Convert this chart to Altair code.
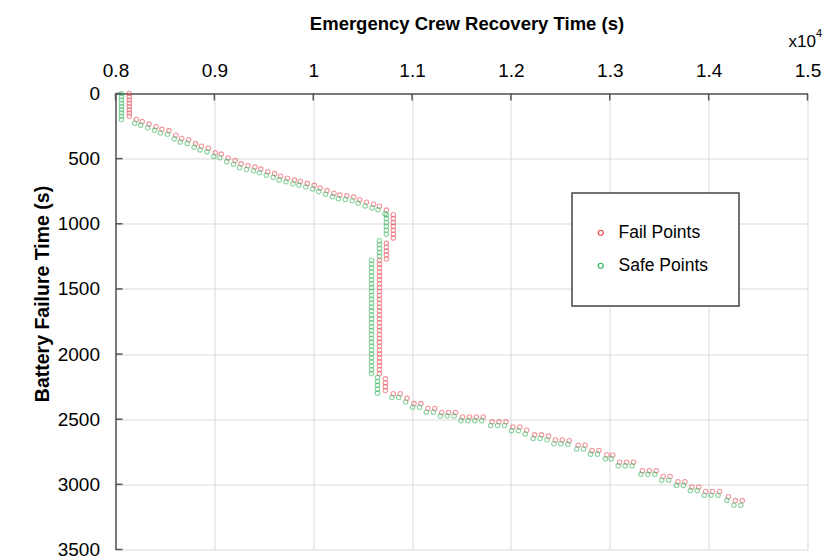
import altair as alt
import pandas as pd

FONT = "Liberation Sans, Arial, sans-serif"

# ---------------- data ----------------
# Fail points (red), by segment
fail_top_x = 8140
fail_top_y = [0, 25, 50, 75, 100, 125, 150, 175]

fail_diag1_x = [8210, 8270, 8340, 8410, 8470, 8540, 8610, 8670, 8740, 8810, 8870, 8940, 9010,
                9070, 9140, 9210, 9270, 9340, 9410, 9470, 9540, 9610, 9670, 9740, 9810, 9870,
                9940, 10010, 10070, 10140, 10210, 10270, 10340, 10410, 10470, 10540, 10610,
                10670, 10740]
fail_diag1_y = [200, 215, 235, 255, 275, 285, 320, 345, 355, 385, 405, 420, 455,
                465, 495, 515, 540, 555, 565, 580, 600, 615, 635, 650, 665, 675,
                690, 705, 725, 745, 765, 780, 785, 795, 815, 835, 850,
                865, 895]

fail_col1_x = 10810
fail_col1_y = [930, 960, 990, 1020, 1050, 1080, 1110]
fail_col2_x = 10740
fail_col2_y = [1150, 1180, 1210, 1240, 1270]
fail_col3_x = 10670
fail_col3_y = [1280, 1310, 1340, 1370, 1400, 1430, 1460, 1490, 1520, 1550, 1580, 1610,
               1640, 1670, 1700, 1730, 1760, 1790, 1820, 1850, 1880, 1910, 1940, 1970,
               2000, 2030, 2060, 2090, 2120, 2150]
fail_col4_x = 10730
fail_col4_y = [2190, 2220, 2250, 2280]

fail_diag2_x = [10810, 10880, 10950, 11020, 11090, 11160, 11230, 11300, 11370, 11440,
                11510, 11580, 11650, 11720, 11810, 11880, 11950, 12020, 12090, 12160,
                12240, 12310, 12380, 12450, 12520, 12590, 12680, 12750, 12820, 12890,
                12970, 13030, 13100, 13170, 13240, 13330, 13400, 13470, 13540, 13610,
                13690, 13760, 13830, 13900, 13970, 14040, 14110, 14200, 14270, 14340]
fail_diag2_y = [2305, 2305, 2340, 2380, 2380, 2418, 2418, 2448, 2448, 2448,
                2483, 2483, 2483, 2483, 2520, 2520, 2520, 2560, 2560, 2585,
                2620, 2620, 2630, 2660, 2660, 2665, 2700, 2700, 2740, 2740,
                2775, 2775, 2830, 2830, 2830, 2895, 2895, 2895, 2940, 2940,
                2980, 2980, 3020, 3020, 3055, 3055, 3055, 3095, 3125, 3125]

# Safe points (green), by segment
safe_top_x = 8060
safe_top_y = [0, 25, 50, 75, 100, 125, 150, 175, 200]

safe_diag1_x = [8195, 8255, 8325, 8395, 8455, 8525, 8595, 8655, 8725, 8795, 8855, 8925, 8995,
                9055, 9125, 9195, 9255, 9325, 9395, 9455, 9525, 9595, 9655, 9725, 9795, 9855,
                9925, 9995, 10055, 10125, 10195, 10255, 10325, 10395, 10455, 10525, 10595,
                10655, 10725]
safe_diag1_y = [228, 243, 263, 283, 303, 313, 348, 373, 383, 413, 433, 448, 483,
                493, 523, 543, 568, 583, 593, 608, 628, 643, 663, 678, 693, 703,
                718, 733, 753, 773, 793, 808, 813, 823, 843, 863, 878,
                893, 923]

safe_col1_x = 10740
safe_col1_y = [930, 960, 990, 1020, 1050, 1080]
safe_col2_x = 10670
safe_col2_y = [1130, 1160, 1190, 1220, 1250]
safe_col3_x = 10590
safe_col3_y = [1280, 1310, 1340, 1370, 1400, 1430, 1460, 1490, 1520, 1550, 1580, 1610,
               1640, 1670, 1700, 1730, 1760, 1790, 1820, 1850, 1880, 1910, 1940, 1970,
               2000, 2030, 2060, 2090, 2120, 2150]
safe_col4_x = 10650
safe_col4_y = [2180, 2210, 2240, 2270, 2300]

safe_diag2_x = [10795, 10865, 10935, 11005, 11075, 11145, 11215, 11285, 11355, 11425,
                11495, 11565, 11635, 11705, 11795, 11865, 11935, 12005, 12075, 12145,
                12225, 12295, 12365, 12435, 12505, 12575, 12665, 12735, 12805, 12875,
                12955, 13015, 13085, 13155, 13225, 13315, 13385, 13455, 13525, 13595,
                13675, 13745, 13815, 13885, 13955, 14025, 14095, 14185, 14255, 14325]
safe_diag2_y = [2333, 2333, 2368, 2408, 2408, 2446, 2446, 2476, 2476, 2476,
                2511, 2511, 2511, 2511, 2548, 2548, 2548, 2588, 2588, 2613,
                2648, 2648, 2658, 2688, 2688, 2693, 2728, 2728, 2768, 2768,
                2803, 2803, 2858, 2858, 2858, 2923, 2923, 2923, 2968, 2968,
                3008, 3008, 3048, 3048, 3083, 3083, 3083, 3123, 3160, 3160]

series_names = ["Fail Points", "Safe Points"]
series_colors = ["#e8424e", "#2db356"]

x_ticks = [8000, 9000, 10000, 11000, 12000, 13000, 14000, 15000]
x_tick_labels = ["0.8", "0.9", "1", "1.1", "1.2", "1.3", "1.4", "1.5"]
y_ticks = [0, 500, 1000, 1500, 2000, 2500, 3000, 3500]

# ---------------- assemble tables ----------------
fail_x = ([fail_top_x] * len(fail_top_y) + fail_diag1_x + [fail_col1_x] * len(fail_col1_y)
          + [fail_col2_x] * len(fail_col2_y) + [fail_col3_x] * len(fail_col3_y)
          + [fail_col4_x] * len(fail_col4_y) + fail_diag2_x)
fail_y = fail_top_y + fail_diag1_y + fail_col1_y + fail_col2_y + fail_col3_y + fail_col4_y + fail_diag2_y
safe_x = ([safe_top_x] * len(safe_top_y) + safe_diag1_x + [safe_col1_x] * len(safe_col1_y)
          + [safe_col2_x] * len(safe_col2_y) + [safe_col3_x] * len(safe_col3_y)
          + [safe_col4_x] * len(safe_col4_y) + safe_diag2_x)
safe_y = safe_top_y + safe_diag1_y + safe_col1_y + safe_col2_y + safe_col3_y + safe_col4_y + safe_diag2_y

points = pd.DataFrame({
    "x": fail_x + safe_x,
    "y": fail_y + safe_y,
    "kind": [series_names[0]] * len(fail_x) + [series_names[1]] * len(safe_x),
})
xt = pd.DataFrame({"v": x_ticks})
yt = pd.DataFrame({"v": y_ticks})

W, H = 692, 456

label_expr = "[" + ",".join("'%s'" % s for s in x_tick_labels) + "][round((datum.value-8000)/1000)]"

x_scale = alt.Scale(domain=[8000, 15000], nice=False, zero=False)
y_scale = alt.Scale(domain=[0, 3500], nice=False, zero=False, reverse=True)

x_axis = alt.Axis(
    orient="top", values=x_ticks, labelExpr=label_expr,
    title="Emergency Crew Recovery Time (s)",
    tickSize=0, labelPadding=13, labelFlush=False, labelOverlap=False,
    grid=True, gridColor="#d9d9d9", gridWidth=1,
    domainColor="#555555", domainWidth=1.5,
    labelFont=FONT, labelFontSize=19, labelColor="black",
    titleFont=FONT, titleFontSize=18.5, titleFontWeight="bold", titleColor="black",
    titleBaseline="alphabetic", titleX=351, titleY=-64,
)
y_axis = alt.Axis(
    orient="left", values=y_ticks, format="d",
    title="Battery Failure Time (s)",
    tickSize=0, labelPadding=16, labelFlush=False, labelOverlap=False,
    grid=True, gridColor="#d9d9d9", gridWidth=1,
    domainColor="#555555", domainWidth=1.5,
    labelFont=FONT, labelFontSize=19, labelColor="black",
    titleFont=FONT, titleFontSize=19.5, titleFontWeight="bold", titleColor="black",
    titleBaseline="alphabetic", titleX=-67.5, titleY=200, titleAngle=270,
)

pts = alt.Chart(points).mark_point(
    shape="circle", filled=False, size=20, strokeWidth=1.1, opacity=0.55
).encode(
    x=alt.X("x:Q", scale=x_scale, axis=x_axis),
    y=alt.Y("y:Q", scale=y_scale, axis=y_axis),
    color=alt.Color(
        "kind:N",
        scale=alt.Scale(domain=series_names, range=series_colors),
        legend=alt.Legend(
            title=None, orient="none", legendX=456.5, legendY=99.5,
            padding=31, strokeColor="#444444", fillColor="white",
            labelFont=FONT, labelFontSize=17.5, labelColor="black",
            symbolType="circle", symbolSize=25, symbolStrokeWidth=1.2,
            symbolOpacity=1, rowPadding=14, labelOffset=9, symbolOffset=-11,
        ),
    ),
)

xtick_rules = alt.Chart(xt).mark_rule(color="#555555", strokeWidth=1.5).encode(
    x=alt.X("v:Q", scale=x_scale, axis=x_axis),
    y=alt.value(0), y2=alt.value(7),
)
ytick_rules = alt.Chart(yt).mark_rule(color="#555555", strokeWidth=1.5).encode(
    y=alt.Y("v:Q", scale=y_scale, axis=y_axis),
    x=alt.value(0), x2=alt.value(7),
)

mult = alt.Chart(pd.DataFrame({"t": ["x10"]})).mark_text(
    font=FONT, fontSize=17, align="left", baseline="middle", color="black"
).encode(text="t:N", x=alt.value(673), y=alt.value(-52))
expo = alt.Chart(pd.DataFrame({"t": ["4"]})).mark_text(
    font=FONT, fontSize=11, align="left", baseline="middle", color="black"
).encode(text="t:N", x=alt.value(700.5), y=alt.value(-60))

chart = alt.layer(pts, xtick_rules, ytick_rules, mult, expo).properties(
    width=W, height=H,
    autosize=alt.AutoSizeParams(type="none"),
    padding={"left": 107.5, "top": 85.5, "right": 15.5, "bottom": 10},
    background="white",
).configure_view(stroke=None).configure_legend(strokeWidth=1.5)

chart.save("out.html", embed_options={"renderer": "svg", "actions": False})
